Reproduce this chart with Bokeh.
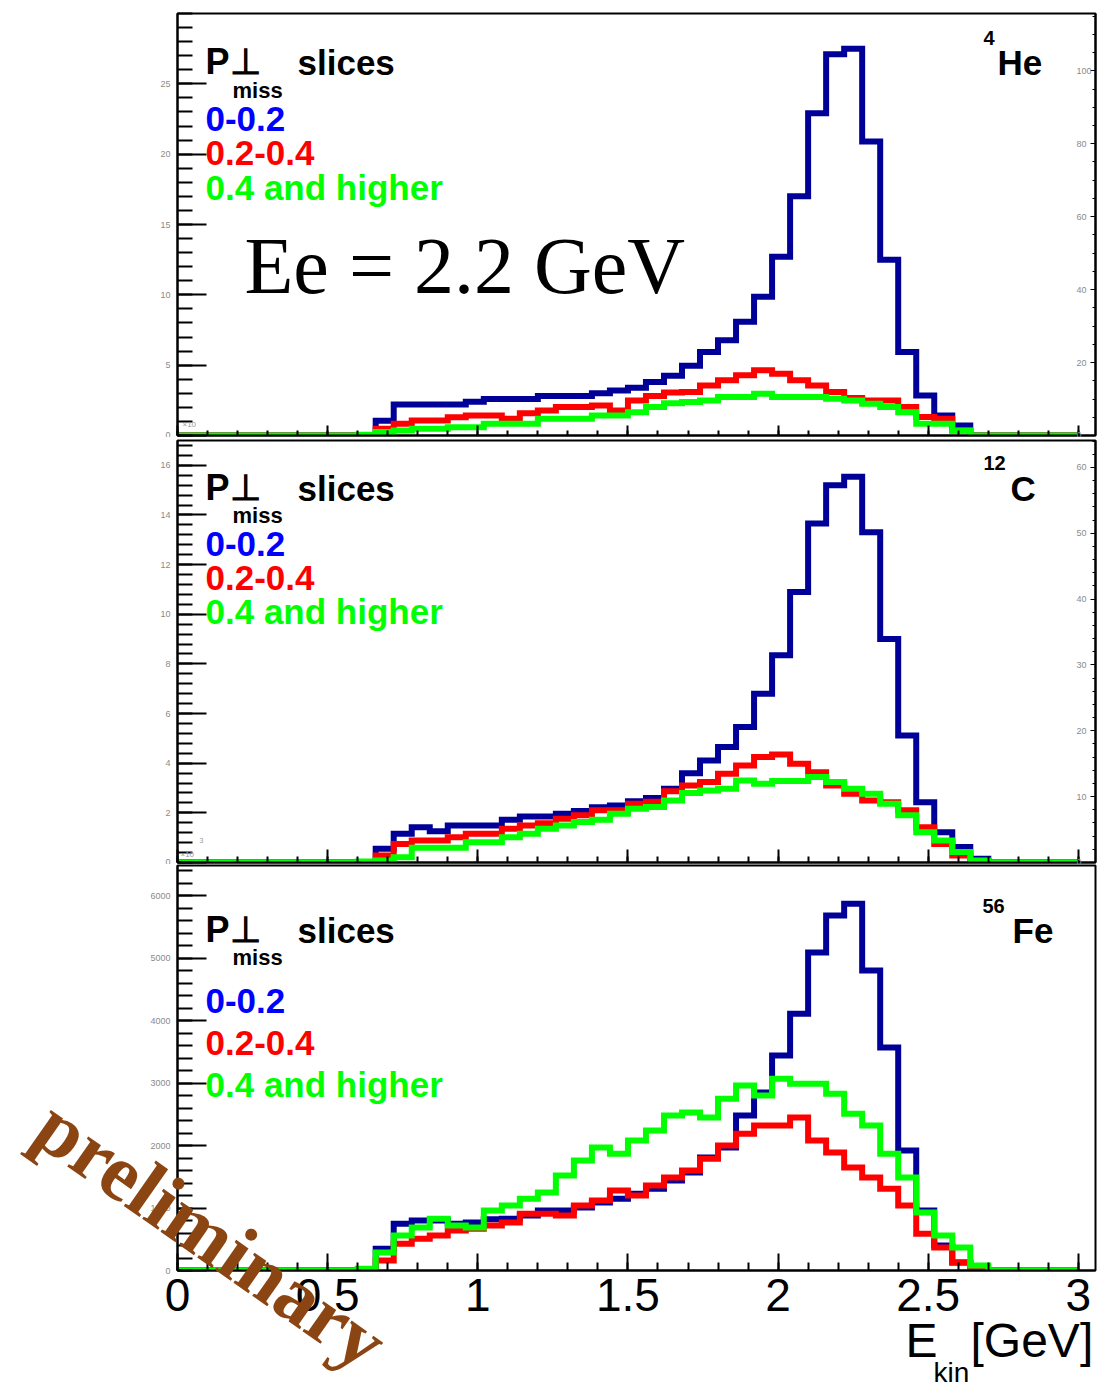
from bokeh.plotting import figure
from bokeh.models import Range1d, LinearAxis, FixedTicker, Label, GridBox
from bokeh.embed import file_html
from bokeh.resources import INLINE

# ---------------- data ----------------
bin_start = 0.0
bin_width = 0.06
n_bins = 50

# 4He, E_e = 2.2 GeV  (left-axis units)
he_blue = [0, 0, 0, 0, 0, 0, 0, 0, 0, 0, 0,
           1.05, 2.2, 2.2, 2.2, 2.2, 2.4, 2.6, 2.6, 2.6, 2.8,
           2.8, 2.8, 3.0, 3.2, 3.4, 3.8, 4.25, 4.95, 5.94, 6.77,
           8.08, 9.86, 12.7, 17.0, 22.9, 27.1, 27.5, 20.9, 12.5, 5.94,
           2.85, 1.43, 0.71, 0, 0, 0, 0, 0, 0]
he_red = [0, 0, 0, 0, 0, 0, 0, 0, 0, 0, 0,
          0.48, 0.83, 1.07, 1.07, 1.3, 1.43, 1.43, 1.19, 1.59, 1.78,
          2.02, 2.02, 2.14, 1.78, 2.49, 2.8, 3.05, 3.09, 3.56, 3.92,
          4.28, 4.63, 4.39, 3.92, 3.56, 3.09, 2.66, 2.49, 2.49, 2.02,
          1.31, 1.19, 0.35, 0, 0, 0, 0, 0, 0]
he_green = [0, 0, 0, 0, 0, 0, 0, 0, 0, 0, 0.05,
            0.24, 0.36, 0.48, 0.48, 0.59, 0.59, 0.83, 0.83, 0.83, 1.19,
            1.19, 1.19, 1.43, 1.43, 1.66, 2.02, 2.3, 2.38, 2.49, 2.73,
            2.73, 2.97, 2.73, 2.73, 2.73, 2.61, 2.49, 2.26, 2.02, 1.66,
            0.83, 0.83, 0.36, 0, 0, 0, 0, 0, 0]

# 12C
c_blue = [0, 0, 0, 0, 0, 0, 0, 0, 0, 0, 0,
          0.55, 1.16, 1.42, 1.26, 1.49, 1.49, 1.49, 1.72, 1.85, 1.85,
          1.96, 2.07, 2.23, 2.3, 2.47, 2.6, 2.97, 3.6, 4.11, 4.65,
          5.46, 6.8, 8.35, 10.9, 13.66, 15.2, 15.54, 13.3, 9.0, 5.12,
          2.43, 1.22, 0.62, 0.15, 0, 0, 0, 0, 0]
c_red = [0, 0, 0, 0, 0, 0, 0, 0, 0, 0, 0,
         0.28, 0.75, 0.89, 0.89, 1.02, 1.16, 1.16, 1.36, 1.49, 1.58,
         1.76, 1.9, 2.1, 2.1, 2.37, 2.45, 2.87, 3.1, 3.24, 3.58,
         3.91, 4.25, 4.35, 3.98, 3.64, 3.1, 2.77, 2.5, 2.43, 2.1,
         1.42, 0.75, 0.28, 0.05, 0, 0, 0, 0, 0]
c_green = [0, 0, 0, 0, 0, 0, 0, 0, 0, 0, 0.04,
           0.08, 0.21, 0.59, 0.59, 0.59, 0.82, 0.82, 1.02, 1.16, 1.36,
           1.49, 1.63, 1.72, 1.96, 2.17, 2.24, 2.5, 2.8, 2.9, 2.97,
           3.3, 3.17, 3.28, 3.28, 3.44, 3.24, 2.97, 2.77, 2.37, 1.9,
           1.22, 0.89, 0.42, 0.08, 0, 0, 0, 0, 0]

# 56Fe
fe_blue = [0, 0, 0, 0, 0, 0, 0, 0, 0, 0, 0,
           350, 750, 800, 800, 750, 770, 820, 830, 880, 960,
           960, 1010, 1090, 1150, 1230, 1310, 1440, 1570, 1810, 1970,
           2480, 2850, 3440, 4110, 5090, 5680, 5870, 4800, 3570, 1920,
           960, 400, 130, 0, 0, 0, 0, 0, 0]
fe_red = [0, 0, 0, 0, 0, 0, 0, 0, 0, 0, 0,
          160, 430, 510, 560, 640, 670, 720, 770, 910, 910,
          880, 1040, 1120, 1280, 1200, 1360, 1490, 1600, 1790, 2000,
          2190, 2320, 2320, 2450, 2080, 1890, 1650, 1490, 1310, 1040,
          590, 370, 130, 0, 0, 0, 0, 0, 0]
fe_green = [0, 0, 0, 0, 0, 0, 0, 0, 0, 0, 30,
            290, 560, 690, 830, 720, 690, 960, 1040, 1150, 1250,
            1520, 1760, 1970, 1870, 2080, 2240, 2480, 2530, 2450, 2750,
            2960, 2800, 3070, 2990, 2990, 2830, 2510, 2320, 1870, 1490,
            930, 560, 370, 80, 0, 0, 0, 0, 0]

x_major_ticks = [0, 0.5, 1.0, 1.5, 2.0, 2.5, 3.0]
x_tick_labels = ["0", "0.5", "1", "1.5", "2", "2.5", "3"]
x_minor_ticks = [0, 0.1, 0.2, 0.3, 0.4, 0.5, 0.6, 0.7, 0.8, 0.9, 1.0,
                 1.1, 1.2, 1.3, 1.4, 1.5, 1.6, 1.7, 1.8, 1.9, 2.0,
                 2.1, 2.2, 2.3, 2.4, 2.5, 2.6, 2.7, 2.8, 2.9, 3.0]

he_left_ticks = [0, 5, 10, 15, 20, 25]
he_right_ticks = [0, 20, 40, 60, 80, 100]
c_left_ticks = [0, 2, 4, 6, 8, 10, 12, 14, 16]
c_right_ticks = [0, 10, 20, 30, 40, 50, 60]
fe_left_ticks = [0, 1000, 2000, 3000, 4000, 5000, 6000]
fe_left_labels = ["0", "1000", "2000", "3000", "4000", "5000", "6000"]

slice_labels = ["0-0.2", "0.2-0.4", "0.4 and higher"]
slice_line_colors = ["#000099", "#ff0000", "#00ff00"]
slice_text_colors = ["#0000ff", "#ff0000", "#00ff00"]

# ---------------- layout constants ----------------
XMAX = 3.057
FL, FR = 177, 1095
SANS = "Liberation Sans"
SERIF = "Liberation Serif"


def make_fig(height, btop, bbot, ymax):
    p = figure(width=1113, height=height, x_range=Range1d(0, XMAX),
               y_range=Range1d(0, ymax), output_backend="svg",
               toolbar_location=None, title=None,
               x_axis_type=None, y_axis_type=None,
               min_border_left=FL, min_border_right=1113 - FR,
               min_border_top=btop, min_border_bottom=bbot)
    p.outline_line_color = "black"
    p.outline_line_width = 2
    p.background_fill_color = "white"
    p.border_fill_color = "white"
    return p


def minors(ticks, n):
    out = []
    for a, b in zip(ticks[:-1], ticks[1:]):
        for j in range(n):
            out.append(a + (b - a) * j / n)
    out.append(ticks[-1])
    step = (ticks[-1] - ticks[-2]) / n
    v = ticks[-1]
    for j in range(n * 2):
        v += step
        out.append(v)
    return out


def add_left(p, ticks, labels, n_minor):
    ax = LinearAxis(ticker=FixedTicker(ticks=ticks, minor_ticks=minors(ticks, n_minor)),
                    major_tick_in=29, major_tick_out=0, minor_tick_in=15, minor_tick_out=0,
                    axis_line_width=2, major_tick_line_width=2, minor_tick_line_width=2,
                    major_label_text_font_size="9px", major_label_text_color="#8a8a8a",
                    major_label_text_font=SANS, major_label_standoff=7,
                    major_label_overrides={t: l for t, l in zip(ticks, labels)})
    p.add_layout(ax, "left")


def add_right(p, rng_max, ticks, n_minor):
    p.extra_y_ranges = {"right": Range1d(0, rng_max)}
    ax = LinearAxis(y_range_name="right",
                    ticker=FixedTicker(ticks=ticks, minor_ticks=minors(ticks, n_minor)),
                    major_tick_in=5, major_tick_out=0, minor_tick_in=3, minor_tick_out=0,
                    axis_line_width=2, major_tick_line_width=1, minor_tick_line_width=1,
                    major_label_text_font_size="9px", major_label_text_color="#8a8a8a",
                    major_label_text_font=SANS, major_label_standoff=-19,
                    major_label_overrides={t: str(t) for t in ticks})
    p.add_layout(ax, "right")


def add_bottom(p, tin, show_labels):
    ax = LinearAxis(ticker=FixedTicker(ticks=x_major_ticks, minor_ticks=x_minor_ticks),
                    major_tick_in=tin, major_tick_out=0, minor_tick_in=tin // 2, minor_tick_out=0,
                    axis_line_width=2, major_tick_line_width=2, minor_tick_line_width=2)
    if show_labels:
        ax.major_label_overrides = {t: l for t, l in zip(x_major_ticks, x_tick_labels)}
        ax.major_label_text_font_size = "46px"
        ax.major_label_text_font = SANS
        ax.major_label_text_color = "black"
        ax.major_label_standoff = 8
    else:
        ax.major_label_overrides = {t: "" for t in x_major_ticks}
        ax.major_label_text_font_size = "1px"
        ax.major_label_standoff = 0
    p.add_layout(ax, "below")


def draw_hists(p, series):
    edges = [bin_start + i * bin_width for i in range(n_bins + 1)]
    for vals, col in zip(series, slice_line_colors):
        p.step(edges, list(vals) + [vals[-1]], mode="after", line_width=6,
               line_color=col, line_join="miter")


def txt(p, conv, px, py, text, size, color="black", font=SANS, style="bold", **kw):
    x, y = conv(px, py)
    p.add_layout(Label(x=x, y=y, text=text, text_font=font, text_font_size=size,
                       text_font_style=style, text_color=color, text_align="left",
                       text_baseline="middle", **kw))


def converter(top, bottom, ymax):
    def conv(px, py):
        return (px - FL) / (FR - FL) * XMAX, (bottom - py) / (bottom - top) * ymax
    return conv


def legend(p, conv, y_title, y_miss, ys):
    txt(p, conv, 205, y_title, "P\u22a5", "36px")
    txt(p, conv, 297, y_title + 1, "slices", "35px")
    txt(p, conv, 232, y_miss, "miss", "22px")
    for lab, col, yy in zip(slice_labels, slice_text_colors, ys):
        txt(p, conv, 205, yy, lab, "35px", color=col)


# ---------------- panel 1: 4He ----------------
p1 = make_fig(437, 13, 2, 30)
c1 = converter(13, 435, 30)
add_left(p1, he_left_ticks, [str(t) for t in he_left_ticks], 5)
add_right(p1, 115.7, he_right_ticks, 4)
add_bottom(p1, 10, False)
draw_hists(p1, [he_blue, he_red, he_green])
legend(p1, c1, 61, 90, [118, 152, 187])
txt(p1, c1, 997, 62, "He", "35px")
txt(p1, c1, 983, 37, "4", "20px")
txt(p1, c1, 244, 265, "Ee = 2.2 GeV", "80px", font=SERIF, style="normal")
txt(p1, c1, 182, 424, "\u00d710", "8px", color="#9a9a9a", style="normal")

# ---------------- panel 2: 12C ----------------
p2 = make_fig(427, 3, 2, 17)
c2 = converter(440, 862, 17)
add_left(p2, c_left_ticks, [str(t) for t in c_left_ticks], 5)
add_right(p2, 64.1, c_right_ticks, 5)
add_bottom(p2, 13, False)
draw_hists(p2, [c_blue, c_red, c_green])
legend(p2, c2, 487, 515, [543, 577, 611])
txt(p2, c2, 1010, 488, "C", "35px")
txt(p2, c2, 983, 462, "12", "20px")
txt(p2, c2, 180, 854, "\u00d710", "8px", color="#9a9a9a", style="normal")
txt(p2, c2, 199, 840, "3", "7px", color="#9a9a9a", style="normal")

# ---------------- panel 3: 56Fe ----------------
p3 = make_fig(522, 1, 116, 6480)
c3 = converter(865, 1270, 6480)
add_left(p3, fe_left_ticks, fe_left_labels, 5)
add_bottom(p3, 17, True)
draw_hists(p3, [fe_blue, fe_red, fe_green])
legend(p3, c3, 929, 957, [1000, 1042, 1084])
txt(p3, c3, 1012, 930, "Fe", "35px")
txt(p3, c3, 982, 905, "56", "20px")

# ------------- overlay for texts outside the frames -------------
ov = figure(width=1113, height=1386, x_range=Range1d(0, 1113), y_range=Range1d(1386, 0),
            output_backend="svg", toolbar_location=None, title=None,
            x_axis_type=None, y_axis_type=None,
            min_border_left=0, min_border_right=0, min_border_top=0, min_border_bottom=0)
if "frame_align" in ov.properties():
    ov.frame_align = False
ov.background_fill_color = None
ov.border_fill_color = None
ov.outline_line_color = None
ident = lambda px, py: (px, py)
txt(ov, ident, 905, 1340, "E", "48px", style="normal")
txt(ov, ident, 933, 1372, "kin", "28px", style="normal")
txt(ov, ident, 970, 1340, "[GeV]", "48px", style="normal")
txt(ov, ident, 44, 1117, "preliminary", "80px", color="#8b4513", font=SERIF,
    angle=-35, angle_units="deg")

grid = GridBox(children=[(p1, 0, 0), (p2, 1, 0), (p3, 2, 0), (ov, 0, 0, 3, 1)])
open("out.html", "w").write(file_html(grid, INLINE))
